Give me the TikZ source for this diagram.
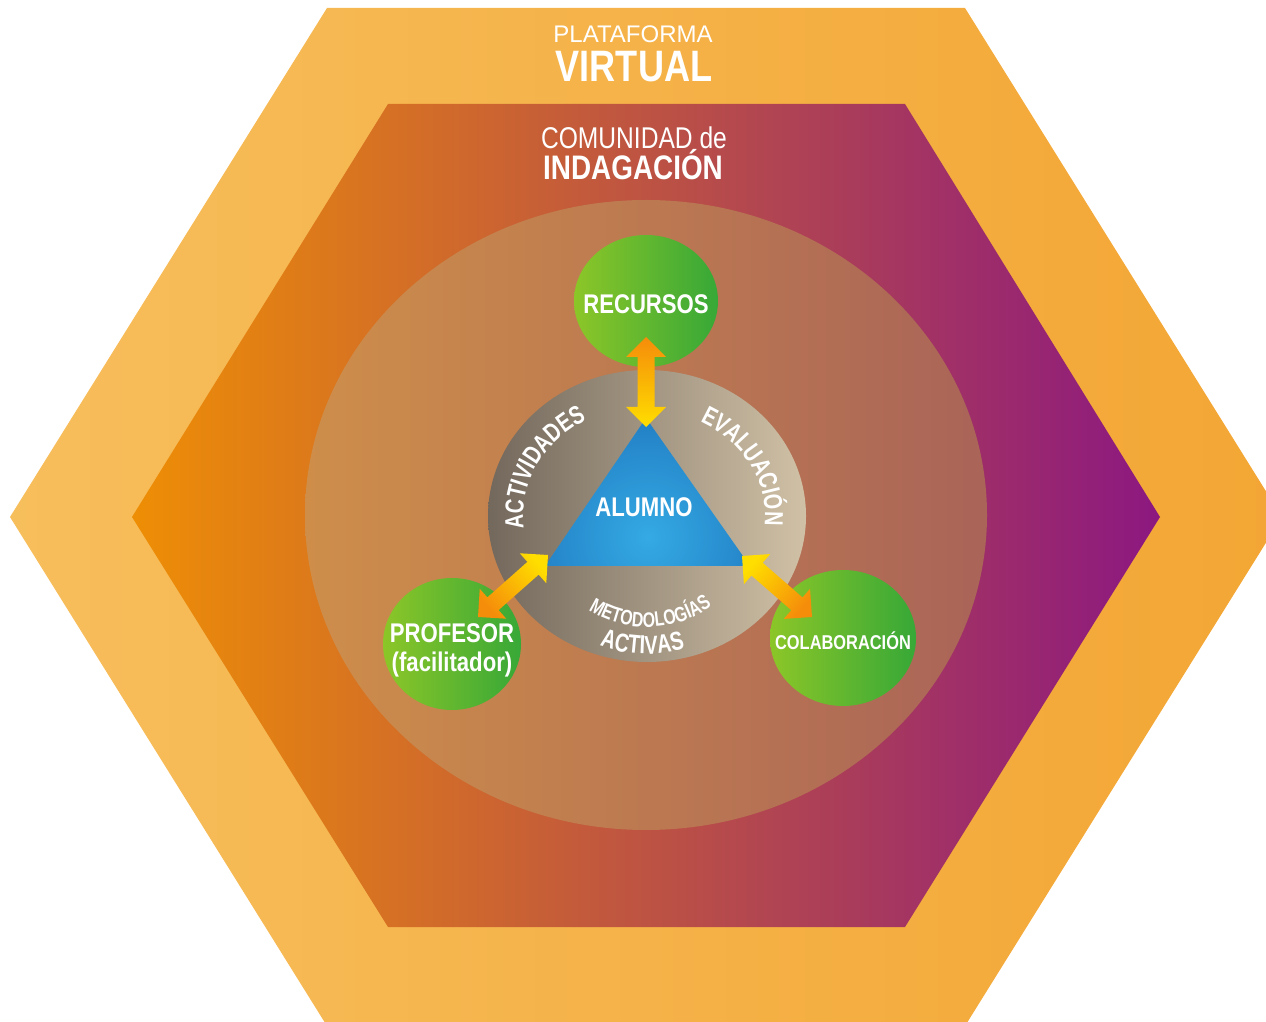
\documentclass[tikz,border=0pt]{standalone}
\usepackage{fontspec}
\setmainfont[FakeStretch=0.82]{Liberation Sans}
\newfontfamily\widefont{Liberation Sans}
\newfontfamily\arcfont[FakeStretch=0.76]{Liberation Sans}
\usetikzlibrary{calc,decorations.text,shapes.geometric}
\definecolor{hexOutL}{RGB}{247,190,92}
\definecolor{hexOutR}{RGB}{243,166,52}
\definecolor{hexInL}{RGB}{238,142,5}
\definecolor{hexInM}{RGB}{202,88,52}
\definecolor{hexInR}{RGB}{140,24,128}
\definecolor{ellL}{RGB}{206,142,74}
\definecolor{ellR}{RGB}{170,100,88}
\definecolor{hubL}{RGB}{115,104,92}
\definecolor{hubR}{RGB}{208,193,166}
\definecolor{triIn}{RGB}{52,170,228}
\definecolor{triOut}{RGB}{20,92,170}
\definecolor{grL}{RGB}{140,198,40}
\definecolor{grR}{RGB}{55,168,55}
\definecolor{arY}{RGB}{255,222,0}
\definecolor{arO}{RGB}{245,140,10}
\tikzset{
  greenbub/.style={ellipse, inner sep=0pt, left color=grL, right color=grR},
  bubtext/.style={text=white, align=center, inner sep=0pt},
  titletext/.style={anchor=base, text=white, inner sep=0pt},
}
\newcommand\dblarrow[2]{%
  \path let \p1=($(#2)-(#1)$), \n1={atan2(\y1,\x1)}, \n2={veclen(\x1,\y1)} in
    \pgfextra{\xdef\arang{\n1}\xdef\arlen{\n2}};
  \begin{scope}[shift={(#1)}, rotate=\arang]
    \shade[top color=arO, bottom color=arY, shading angle={\arang-90}] (0,0) -- (20,20) -- (20,8.5) -- ({\arlen-20},8.5) -- ({\arlen-20},20) -- (\arlen,0) -- ({\arlen-20},-20) -- ({\arlen-20},-8.5) -- (20,-8.5) -- (20,-20) -- cycle;
  \end{scope}}
\begin{document}
\begin{tikzpicture}[x=1pt,y=1pt]
\useasboundingbox (0,0) rectangle (1266,1021);
\clip (0,0) rectangle (1266,1021);
% hexagons
\shade[left color=hexOutL, right color=hexOutR] (327,1013) -- (965,1013) -- (1282,504) -- (965,-5) -- (327,-5) -- (10,504) -- cycle;
\shade[left color=hexInL, middle color=hexInM, right color=hexInR] (388,917) -- (905,917) -- (1160,504) -- (905,94) -- (388,94) -- (132,504) -- cycle;
% titles
\node[titletext, font=\widefont\fontsize{24}{24}\selectfont] (plat) at (633,978) {PLATAFORMA};
\node[titletext, font=\bfseries\fontsize{44}{44}\selectfont] (virt) at (634,939) {VIRTUAL};
\node[titletext, font=\fontsize{30}{30}\selectfont] (comu) at (634,872.5) {COMUNIDAD de};
\node[titletext, font=\bfseries\fontsize{34}{34}\selectfont] (inda) at (633,841.5) {INDAGACIÓN};
% big ellipse and hub
\node[ellipse, inner sep=0pt, minimum width=682pt, minimum height=630pt, left color=ellL, right color=ellR] (ring) at (646,506) {};
\node[ellipse, inner sep=0pt, minimum width=318pt, minimum height=292pt, left color=hubL, right color=hubR] (hub) at (647,505) {};
% triangle
\coordinate (tA) at (646,603);
\coordinate (tL) at (545,455);
\coordinate (tR) at (750,455);
\begin{scope}
  \clip (tA) -- (tL) -- (tR) -- cycle;
  \shade[inner color=triIn, outer color=triOut] (648,484) circle[radius=220];
\end{scope}
\node[titletext, font=\bfseries\fontsize{27}{27}\selectfont] (alumno) at (644,504) {ALUMNO};
% arc texts
\path[decorate, decoration={text along path, text align=center,
  text={|\color{white}\arcfont\bfseries\fontsize{26}{26}\selectfont|ACTIVIDADES}}]
  ([shift={(214:124 and 110)}]hub.center) arc[start angle=214, end angle=94, x radius=124, y radius=110];
\path[decorate, decoration={text along path, text align=center,
  text={|\color{white}\arcfont\bfseries\fontsize{26}{26}\selectfont|EVALUACIÓN}}]
  ([shift={(88:118 and 106)}]hub.center) arc[start angle=88, end angle=-32, x radius=118, y radius=106];
\path[decorate, decoration={text along path, text align=center,
  text={|\color{white}\arcfont\bfseries\fontsize{21}{21}\selectfont|METODOLOGÍAS}}]
  ([shift={(-148:111)}]hub.center) arc[start angle=-148, end angle=-28, radius=111];
\path[decorate, decoration={text along path, text align=center,
  text={|\color{white}\arcfont\bfseries\fontsize{26}{26}\selectfont|ACTIVAS}}]
  ([shift={(-152:138)}]hub.center) arc[start angle=-152, end angle=-32, radius=138];
% green bubbles
\node[greenbub, minimum width=144pt, minimum height=132pt,
  label={[bubtext, yshift=-3pt, font=\bfseries\fontsize{27}{27}\selectfont]center:RECURSOS}] (rec) at (646,720) {};
\node[greenbub, minimum width=138pt, minimum height=132pt,
  label={[bubtext, yshift=-6pt, font=\bfseries\fontsize{27}{29}\selectfont]center:PROFESOR\\(facilitador)}] (prof) at (452,377) {};
\node[greenbub, minimum width=146pt, minimum height=136pt,
  label={[bubtext, yshift=-3pt, font=\bfseries\fontsize{20}{20}\selectfont]center:COLABORACIÓN}] (col) at (843,383) {};
% arrows
\coordinate (upA) at (646,594);
\coordinate (upB) at (646,684);
\coordinate (lfA) at (548,466);
\coordinate (lfB) at (478,404);
\coordinate (rtA) at (742,465);
\coordinate (rtB) at (812,404);
\dblarrow{upA}{upB}
\dblarrow{lfA}{lfB}
\dblarrow{rtA}{rtB}
\end{tikzpicture}
\end{document}
